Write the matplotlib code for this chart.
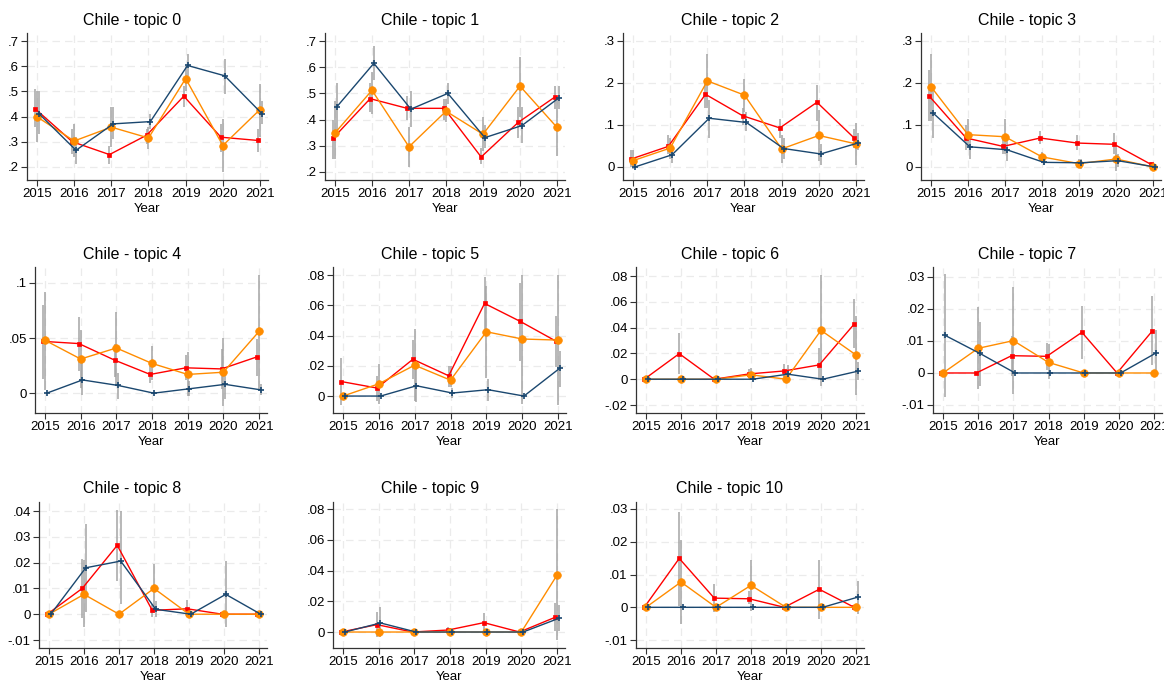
# Chile topic shares by year, three series with confidence intervals
import numpy as np
import matplotlib
matplotlib.use("Agg")
import matplotlib.pyplot as plt
from matplotlib.ticker import FuncFormatter

plt.rcParams['font.family'] = ['Liberation Sans', 'DejaVu Sans']

years = [2015, 2016, 2017, 2018, 2019, 2020, 2021]
titles = ["Chile - topic %d" % i for i in range(11)]

# red series (mean, lower, upper) per topic
red_mean = [
    [0.431, 0.300, 0.249, 0.326, 0.481, 0.318, 0.305],
    [0.329, 0.480, 0.443, 0.443, 0.257, 0.389, 0.487],
    [0.019, 0.049, 0.173, 0.122, 0.093, 0.154, 0.069],
    [0.169, 0.069, 0.049, 0.069, 0.057, 0.054, 0.006],
    [0.047, 0.045, 0.030, 0.017, 0.023, 0.022, 0.033],
    [0.0096, 0.0053, 0.0243, 0.0134, 0.0612, 0.0493, 0.0362],
    [0, 0.0198, 0, 0.0041, 0.0064, 0.0111, 0.0428],
    [0, 0, 0.0054, 0.0052, 0.0127, 0, 0.0131],
    [0, 0.010, 0.0267, 0.0015, 0.0021, 0, 0],
    [0, 0.0048, 0, 0.0013, 0.0061, 0, 0.0096],
    [0, 0.0149, 0.0028, 0.0026, 0, 0.0055, 0],
]
red_lo = [
    [0.359, 0.25, 0.21, 0.29, 0.44, 0.26, 0.26],
    [0.25, 0.43, 0.40, 0.40, 0.23, 0.33, 0.44],
    [0.0, 0.03, 0.14, 0.10, 0.07, 0.11, 0.045],
    [0.11, 0.04, 0.03, 0.055, 0.04, 0.03, 0.0],
    [0.013, 0.02, 0.015, 0.009, 0.012, 0.004, 0.016],
    [-0.006, -0.003, 0.011, 0.006, 0.043, 0.023, 0.019],
    [0, 0.004, 0, 0.001, 0.002, -0.001, 0.024],
    [0, 0, -0.001, 0.001, 0.0045, 0, 0.0025],
    [0, -0.0015, 0.013, -0.001, -0.001, 0, 0],
    [0, -0.003, 0, -0.001, 0.0005, 0, 0.0005],
    [0, 0.0005, -0.0015, 0.001, 0, -0.0035, 0],
]
red_hi = [
    [0.508, 0.35, 0.284, 0.35, 0.52, 0.37, 0.35],
    [0.40, 0.54, 0.49, 0.48, 0.29, 0.45, 0.53],
    [0.04, 0.075, 0.21, 0.14, 0.115, 0.195, 0.09],
    [0.23, 0.10, 0.07, 0.085, 0.075, 0.08, 0.012],
    [0.08, 0.069, 0.045, 0.025, 0.035, 0.04, 0.049],
    [0.025, 0.013, 0.037, 0.02, 0.079, 0.075, 0.053],
    [0, 0.036, 0, 0.008, 0.012, 0.024, 0.062],
    [0, 0, 0.0115, 0.0095, 0.021, 0, 0.024],
    [0, 0.0215, 0.0405, 0.004, 0.0055, 0, 0],
    [0, 0.013, 0, 0.0035, 0.0125, 0, 0.019],
    [0, 0.029, 0.007, 0.005, 0, 0.0145, 0],
]

# orange series
orange_mean = [
    [0.399, 0.303, 0.358, 0.315, 0.551, 0.285, 0.428],
    [0.349, 0.512, 0.296, 0.432, 0.344, 0.528, 0.370],
    [0.015, 0.045, 0.205, 0.171, 0.043, 0.075, 0.055],
    [0.191, 0.077, 0.072, 0.024, 0.008, 0.019, 0.0],
    [0.048, 0.031, 0.041, 0.027, 0.017, 0.019, 0.056],
    [0, 0.0081, 0.0204, 0.0105, 0.0425, 0.0377, 0.037],
    [0, 0, 0, 0.0034, 0, 0.0379, 0.0188],
    [0, 0.0077, 0.0101, 0.0033, 0, 0, 0],
    [0, 0.0077, 0, 0.010, 0, 0, 0],
    [0, 0, 0, 0, 0, 0, 0.037],
    [0, 0.0077, 0, 0.0067, 0, 0, 0],
]
orange_lo = [
    [0.30, 0.24, 0.28, 0.27, 0.50, 0.18, 0.32],
    [0.25, 0.42, 0.22, 0.39, 0.28, 0.41, 0.26],
    [-0.005, 0.02, 0.14, 0.13, 0.01, 0.015, 0.005],
    [0.11, 0.05, 0.03, 0.01, 0.0, -0.01, 0],
    [0.003, 0.005, 0.008, 0.012, -0.003, -0.012, 0.003],
    [0, -0.005, -0.003, 0.006, 0.012, -0.005, -0.006],
    [0, 0, 0, -0.001, 0, -0.005, -0.012],
    [0, -0.005, -0.0065, -0.002, 0, 0, 0],
    [0, -0.005, 0, 0.0005, 0, 0, 0],
    [0, 0, 0, 0, 0, 0, -0.005],
    [0, -0.005, 0, -0.001, 0, 0, 0],
]
orange_hi = [
    [0.50, 0.37, 0.44, 0.36, 0.60, 0.39, 0.53],
    [0.47, 0.58, 0.37, 0.48, 0.41, 0.64, 0.48],
    [0.04, 0.07, 0.27, 0.21, 0.075, 0.135, 0.105],
    [0.27, 0.115, 0.115, 0.035, 0.02, 0.05, 0],
    [0.092, 0.057, 0.074, 0.043, 0.037, 0.05, 0.107],
    [0, 0.021, 0.044, 0.02, 0.073, 0.08, 0.08],
    [0, 0, 0, 0.009, 0, 0.081, 0.049],
    [0, 0.0205, 0.027, 0.009, 0, 0, 0],
    [0, 0.021, 0, 0.0195, 0, 0, 0],
    [0, 0, 0, 0, 0, 0, 0.08],
    [0, 0.0205, 0, 0.0145, 0, 0, 0],
]

# blue series
blue_mean = [
    [0.412, 0.266, 0.371, 0.380, 0.603, 0.562, 0.412],
    [0.449, 0.615, 0.440, 0.500, 0.331, 0.377, 0.483],
    [0.0, 0.029, 0.116, 0.106, 0.044, 0.031, 0.057],
    [0.129, 0.048, 0.041, 0.011, 0.010, 0.015, 0.0],
    [0, 0.012, 0.007, 0, 0.004, 0.008, 0.003],
    [0, 0, 0.0068, 0.002, 0.0042, 0, 0.0184],
    [0, 0, 0, 0, 0.0039, 0, 0.0062],
    [0.0118, 0.0061, 0, 0, 0, 0, 0.0062],
    [0, 0.018, 0.0206, 0.0019, 0, 0.0077, 0],
    [0, 0.0059, 0, 0, 0, 0, 0.0089],
    [0, 0, 0, 0, 0, 0, 0.0031],
]
blue_lo = [
    [0.33, 0.21, 0.31, 0.35, 0.56, 0.49, 0.37],
    [0.36, 0.55, 0.37, 0.46, 0.29, 0.31, 0.44],
    [0, 0.01, 0.07, 0.085, 0.02, 0.005, 0.04],
    [0.07, 0.02, 0.015, 0.005, -0.005, 0, 0],
    [0, -0.002, -0.005, 0, -0.003, -0.005, -0.002],
    [0, 0, -0.004, -0.001, -0.003, 0, 0.006],
    [0, 0, 0, 0, -0.002, 0, -0.001],
    [-0.0075, -0.004, 0, 0, 0, 0, -0.001],
    [0, 0.001, 0.004, -0.001, 0, -0.005, 0],
    [0, -0.003, 0, 0, 0, 0, 0.0005],
    [0, 0, 0, 0, 0, 0, -0.002],
]
blue_hi = [
    [0.50, 0.32, 0.44, 0.41, 0.65, 0.63, 0.46],
    [0.54, 0.68, 0.51, 0.54, 0.38, 0.45, 0.53],
    [0, 0.05, 0.16, 0.13, 0.07, 0.055, 0.08],
    [0.19, 0.075, 0.07, 0.02, 0.02, 0.03, 0],
    [0, 0.027, 0.018, 0, 0.011, 0.02, 0.008],
    [0, 0, 0.018, 0.005, 0.011, 0, 0.03],
    [0, 0, 0, 0, 0.011, 0, 0.013],
    [0.031, 0.016, 0, 0, 0, 0, 0.0133],
    [0, 0.035, 0.040, 0.005, 0, 0.0205, 0],
    [0, 0.0165, 0, 0, 0, 0, 0.0175],
    [0, 0, 0, 0, 0, 0, 0.008],
]

yticks = [
    [0.2, 0.3, 0.4, 0.5, 0.6, 0.7],
    [0.2, 0.3, 0.4, 0.5, 0.6, 0.7],
    [0, 0.1, 0.2, 0.3],
    [0, 0.1, 0.2, 0.3],
    [0, 0.05, 0.1],
    [0, 0.02, 0.04, 0.06, 0.08],
    [-0.02, 0, 0.02, 0.04, 0.06, 0.08],
    [-0.01, 0, 0.01, 0.02, 0.03],
    [-0.01, 0, 0.01, 0.02, 0.03, 0.04],
    [0, 0.02, 0.04, 0.06, 0.08],
    [-0.01, 0, 0.01, 0.02, 0.03],
]
ylims = [(0.148, 0.732), (0.169, 0.731), (-0.031, 0.319), (-0.031, 0.319),
         (-0.018, 0.1145), (-0.0112, 0.0853), (-0.0262, 0.087), (-0.0125, 0.0331),
         (-0.0131, 0.0435), (-0.0104, 0.0846), (-0.0124, 0.0321)]

# layout in pixels: axis left edge, x of 2021 tick, row top/bottom
W, H = 1164, 681
lefts = [27, 325, 623, 921, 35, 333, 636, 933, 39, 333, 636]
r21 = [260, 557, 856, 1153, 259, 558, 856, 1154, 259, 557, 856]
rows = [(33, 180), (267, 413), (502, 648)]
title_x = [132, 430, 730, 1027]
title_y = [21, 255, 488]


def stata_fmt(v, pos):
    s = ("%.3f" % v).rstrip('0').rstrip('.')
    if s in ("-0", ""):
        s = "0"
    s = s.replace("0.", ".")
    return s


fig = plt.figure(figsize=(W / 100, H / 100), dpi=100)

series = [
    (red_mean, red_lo, red_hi, -0.05, '#ff0000', 's', 2.8, 2),
    (orange_mean, orange_lo, orange_hi, 0.0, '#ff8c00', 'o', 5.5, 3),
    (blue_mean, blue_lo, blue_hi, 0.05, '#1a476f', '+', 4.5, 4),
]

for k in range(11):
    row, col = divmod(k, 4)
    top, bot = rows[row]
    L = lefts[k]
    R = r21[k] + 8
    ax = fig.add_axes([L / W, 1 - bot / H, (R - L) / W, (bot - top) / H])
    ppy = (r21[k] - L - 10) / 6
    ax.set_xlim(2015 - 10 / ppy, 2021 + 8 / ppy)
    ax.set_ylim(*ylims[k])

    x = np.array(years, dtype=float)
    for mean, lo, hi, off, color, mk, ms, z in series:
        ax.vlines(x + off, lo[k], hi[k], color='#a4a4a4', lw=1.1, zorder=1)
    for mean, lo, hi, off, color, mk, ms, z in series:
        ax.plot(x + off, mean[k], color=color, lw=1.0, marker=mk, ms=ms,
                mew=1.2 if mk == '+' else 0.5, zorder=z)

    ax.set_xticks(years)
    ax.set_yticks(yticks[k])
    ax.yaxis.set_major_formatter(FuncFormatter(stata_fmt))
    ax.tick_params(axis='both', labelsize=9.5, length=4, width=0.8,
                   color='#333333', pad=2)
    ax.grid(True, color='#ebebeb', lw=0.9, ls=(0, (6, 4)))
    ax.set_axisbelow(True)
    for s in ('top', 'right'):
        ax.spines[s].set_visible(False)
    for s in ('left', 'bottom'):
        ax.spines[s].set_color('#333333')
        ax.spines[s].set_linewidth(0.9)
    ax.set_xlabel('Year', fontsize=9.5, labelpad=2)

    fig.text(title_x[col] / W, 1 - title_y[row] / H, titles[k],
             ha='center', va='center', fontsize=11.5)

fig.savefig("out.png", dpi=100)
